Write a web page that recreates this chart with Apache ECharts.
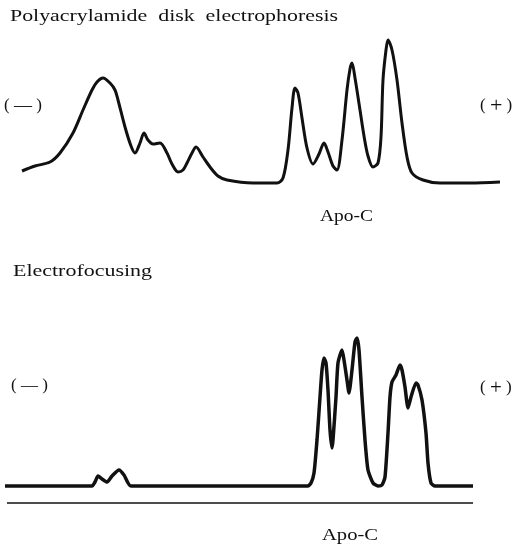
<!DOCTYPE html>
<html>
<head>
<meta charset="utf-8">
<script src="https://cdn.jsdelivr.net/npm/echarts@6/dist/echarts.min.js"></script>
<style>
  html, body { margin: 0; padding: 0; background: #fff; }
  #chart { width: 515px; height: 546px; }
</style>
</head>
<body>
<div id="chart"></div>
<script>
// densitometer traces: position along the gel and height above baseline
const discPos = [22, 35, 50, 60, 73, 83, 92, 97, 103, 110, 115, 118, 125, 131, 135, 140, 144, 148, 153, 160, 167, 172, 178, 183, 187, 192, 196, 203, 210, 218, 227, 253, 277, 283, 288, 292, 295, 298, 302, 307, 313, 319, 324, 328, 333, 337, 342, 347, 350, 352, 355, 360, 364, 368, 373, 378, 381, 383, 386, 388, 392, 397, 402, 407, 412, 423, 440, 470, 500];
const discHeight = [13, 18, 22, 31, 51, 74, 94, 102, 106, 101, 94, 84, 57, 38, 31, 41, 51, 44, 40, 41, 31, 20, 12, 14, 21, 31, 37, 27, 17, 8, 4, 1, 1, 6, 34, 76, 96, 91, 66, 36, 20, 30, 41, 32, 18, 14, 44, 94, 115, 121, 106, 74, 48, 28, 17, 21, 47, 104, 134, 144, 134, 104, 61, 27, 11, 4, 1, 1, 2];

const focusPos = [5, 92, 95, 98, 102, 107, 112, 119, 124, 131, 308, 311, 314, 317, 320, 322, 324, 326, 328, 330, 332, 333, 336, 338, 342, 344, 347, 349, 352, 355, 357, 359, 362, 365, 368, 373, 378, 382, 385, 388, 390, 392, 396, 400, 402, 405, 408, 411, 416, 418, 422, 426, 428, 431, 435, 473];
const focusHeight = [0, 0, 4, 10, 7, 4, 10, 16, 11, 0, 0, 3, 13, 46, 89, 116, 128, 123, 96, 56, 38, 46, 89, 123, 136, 126, 106, 93, 116, 144, 148, 136, 89, 46, 16, 3, 0, 1, 9, 53, 89, 104, 111, 121, 116, 99, 78, 89, 103, 101, 86, 53, 23, 3, 0, 0];

// reference line under the electrofocusing trace
const refPos = [7, 473];
const refHeight = [-17, -17];

const ink = '#111';
const serif = '"Liberation Serif"';
const chart = echarts.init(document.getElementById('chart'));

// stretch serif text to the width it has in the scan
const measure = document.createElement('canvas').getContext('2d');
function label(str, left, cy, width, size) {
  const font = size + 'px ' + serif;
  measure.font = font;
  const w = measure.measureText(str).width;
  return {
    type: 'text',
    x: left,
    y: cy,
    scaleX: width / w,
    style: { text: str, font: font, fill: ink, verticalAlign: 'middle' }
  };
}

// electrode marks: small parens around a big sign
function pole(sign, left, cy, signSize) {
  return {
    type: 'text',
    x: left,
    y: cy,
    style: {
      text: '{p|( }{s|' + sign + '}{p| )}',
      fill: ink,
      verticalAlign: 'middle',
      rich: {
        p: { font: '17px ' + serif, fill: ink, verticalAlign: 'middle' },
        s: { font: signSize + 'px ' + serif, fill: ink, verticalAlign: 'middle' }
      }
    }
  };
}

function pairs(xs, ys) {
  return xs.map((x, i) => [x, ys[i]]);
}

const hidden = { show: false };

chart.setOption({
  animation: false,
  grid: [
    { left: 0, right: 0, top: 0, height: 184 },
    { left: 0, right: 0, top: 300, height: 206 }
  ],
  xAxis: [
    { type: 'value', gridIndex: 0, min: 0, max: 515, show: false },
    { type: 'value', gridIndex: 1, min: 0, max: 515, show: false }
  ],
  yAxis: [
    { type: 'value', gridIndex: 0, min: 0, max: 184, show: false, splitLine: hidden },
    { type: 'value', gridIndex: 1, min: -20, max: 186, show: false, splitLine: hidden }
  ],
  series: [
    {
      name: 'Polyacrylamide disk electrophoresis',
      type: 'line',
      xAxisIndex: 0,
      yAxisIndex: 0,
      data: pairs(discPos, discHeight),
      smooth: 0.3,
      symbol: 'none',
      lineStyle: { color: ink, width: 3 }
    },
    {
      name: 'Electrofocusing',
      type: 'line',
      xAxisIndex: 1,
      yAxisIndex: 1,
      data: pairs(focusPos, focusHeight),
      smooth: 0.2,
      symbol: 'none',
      lineStyle: { color: ink, width: 3.5 }
    },
    {
      name: 'reference',
      type: 'line',
      xAxisIndex: 1,
      yAxisIndex: 1,
      data: pairs(refPos, refHeight),
      symbol: 'none',
      lineStyle: { color: ink, width: 1.5 }
    }
  ],
  graphic: [
    label('Polyacrylamide  disk  electrophoresis', 10, 17, 328, 16),
    pole('—', 4, 106, 18),
    pole('+', 480, 106, 22),
    label('Apo-C', 320, 217, 53, 16),
    label('Electrofocusing', 13, 272, 139, 16),
    pole('—', 11, 386, 17),
    pole('+', 480, 388, 21),
    label('Apo-C', 322, 536, 56, 16)
  ]
});
</script>
</body>
</html>
